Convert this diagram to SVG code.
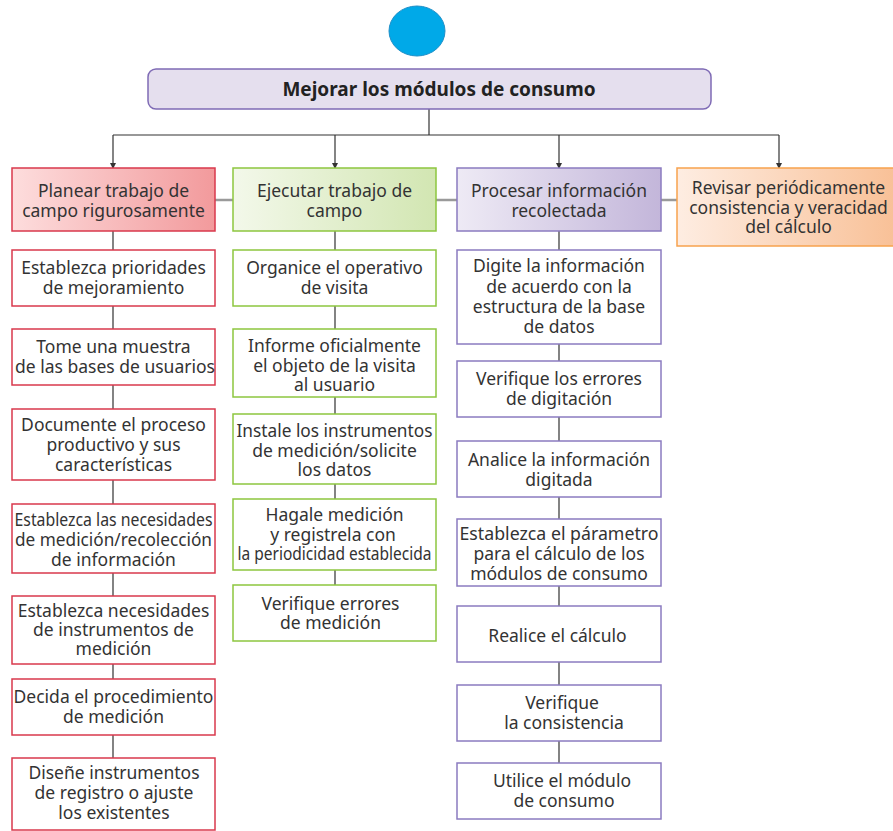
<svg xmlns="http://www.w3.org/2000/svg" width="893" height="831" viewBox="0 0 893 831">
<style>
text{font-family:"Noto Sans","Open Sans","DejaVu Sans",sans-serif;font-size:17.5px;fill:#333;text-anchor:middle}
.title{font-weight:bold;font-size:19px;fill:#222}
.red{fill:#fff;stroke:#D9394C;stroke-width:1.5}
.grn{fill:#fff;stroke:#8DC63F;stroke-width:1.5}
.pur{fill:#fff;stroke:#8B7BC0;stroke-width:1.5}
.conn{stroke:#333;stroke-width:1.2;fill:none}
.gray{stroke:#9a9a9a;stroke-width:2.5;fill:none}
</style>
<defs>
<linearGradient id="gRed" x1="0" x2="1" y1="0" y2="0"><stop offset="0" stop-color="#FDDDDD"/><stop offset="1" stop-color="#F29A9C"/></linearGradient>
<linearGradient id="gGrn" x1="0" x2="1" y1="0" y2="0"><stop offset="0" stop-color="#F3F8EA"/><stop offset="1" stop-color="#D2E6B2"/></linearGradient>
<linearGradient id="gPur" x1="0" x2="1" y1="0" y2="0"><stop offset="0" stop-color="#EEEAF5"/><stop offset="1" stop-color="#C3B6DA"/></linearGradient>
<linearGradient id="gOra" x1="0" x2="1" y1="0" y2="0"><stop offset="0" stop-color="#FEEDE2"/><stop offset="1" stop-color="#F8BE93"/></linearGradient>
<marker id="arr" markerWidth="6" markerHeight="6" refX="5" refY="3" orient="auto" markerUnits="userSpaceOnUse"><path d="M0,0 L6,3 L0,6 Z" fill="#333"/></marker>
</defs>

<g id="connectors">
<path class="conn" d="M429,109 V135"/>
<path class="conn" d="M113,135 H779"/>
<path class="conn" d="M113,135 V168" marker-end="url(#arr)"/>
<path class="conn" d="M335,135 V168" marker-end="url(#arr)"/>
<path class="conn" d="M559,135 V168" marker-end="url(#arr)"/>
<path class="conn" d="M779,135 V168" marker-end="url(#arr)"/>
<path class="gray" d="M215,200 H233 M436,200 H457 M661,200 H677"/>
<path class="conn" d="M113,231 V250 M113,306 V329 M113,385 V409 M113,480 V504 M113,573 V596 M113,664 V679 M113,735 V758"/>
<path class="conn" d="M335,231 V250 M335,306 V329 M335,397 V414 M335,484 V499 M335,570 V585"/>
<path class="conn" d="M559,231 V250 M559,344 V361 M559,417 V441 M559,497 V519 M559,586 V606 M559,662 V685 M559,741 V763"/>
</g>

<g id="start"><ellipse cx="417" cy="31" rx="28" ry="25" fill="#00A9E8" stroke="#1E8FC8" stroke-width="1"/></g>

<g id="root">
<rect x="148" y="69" width="563" height="40" rx="8" fill="#E5DFEE" stroke="#7F6BB5" stroke-width="1.5"/>
<text class="title" x="439" y="96">Mejorar los módulos de consumo</text>
</g>

<g id="h1">
<rect x="12" y="168" width="203" height="63" fill="url(#gRed)" stroke="#D9394C" stroke-width="1.5"/>
<text x="113.5" y="197">Planear trabajo de</text>
<text x="113.5" y="217">campo rigurosamente</text>
</g>
<g id="h2">
<rect x="233" y="168" width="203" height="63" fill="url(#gGrn)" stroke="#8DC63F" stroke-width="1.5"/>
<text x="334.5" y="197">Ejecutar trabajo de</text>
<text x="334.5" y="217">campo</text>
</g>
<g id="h3">
<rect x="457" y="168" width="204" height="63" fill="url(#gPur)" stroke="#8B7BC0" stroke-width="1.5"/>
<text x="559" y="197">Procesar información</text>
<text x="559" y="217">recolectada</text>
</g>
<g id="h4">
<rect x="677" y="168" width="230" height="78" fill="url(#gOra)" stroke="#F7A24E" stroke-width="1.5"/>
<text x="788.5" y="194">Revisar periódicamente</text>
<text x="788.5" y="214">consistencia y veracidad</text>
<text x="788.5" y="233">del cálculo</text>
</g>

<g id="c1a"><rect class="red" x="12" y="250" width="203" height="56"/>
<text x="113.5" y="274">Establezca prioridades</text><text x="113.5" y="294">de mejoramiento</text></g>
<g id="c1b"><rect class="red" x="12" y="329" width="203" height="56"/>
<text x="113.5" y="353">Tome una muestra</text><text x="115" y="373">de las bases de usuarios</text></g>
<g id="c1c"><rect class="red" x="12" y="409" width="203" height="71"/>
<text x="113.5" y="431">Documente el proceso</text><text x="113.5" y="451">productivo y sus</text><text x="113.5" y="471">características</text></g>
<g id="c1d"><rect class="red" x="12" y="504" width="203" height="69"/>
<text x="113.5" y="526" textLength="198" lengthAdjust="spacingAndGlyphs">Establezca las necesidades</text><text x="113.5" y="546" textLength="197" lengthAdjust="spacingAndGlyphs">de medición/recolección</text><text x="113.5" y="566">de información</text></g>
<g id="c1e"><rect class="red" x="12" y="596" width="203" height="68"/>
<text x="113.5" y="617">Establezca necesidades</text><text x="113.5" y="636">de instrumentos de</text><text x="113.5" y="655">medición</text></g>
<g id="c1f"><rect class="red" x="12" y="679" width="203" height="56"/>
<text x="113.5" y="703">Decida el procedimiento</text><text x="113.5" y="723">de medición</text></g>
<g id="c1g"><rect class="red" x="12" y="758" width="203" height="72"/>
<text x="114" y="779">Diseñe instrumentos</text><text x="114" y="799">de registro o ajuste</text><text x="114" y="819">los existentes</text></g>

<g id="c2a"><rect class="grn" x="233" y="250" width="203" height="56"/>
<text x="334.5" y="274">Organice el operativo</text><text x="334.5" y="294">de visita</text></g>
<g id="c2b"><rect class="grn" x="233" y="329" width="203" height="68"/>
<text x="334.5" y="352">Informe oficialmente</text><text x="334.5" y="372">el objeto de la visita</text><text x="334.5" y="391">al usuario</text></g>
<g id="c2c"><rect class="grn" x="233" y="414" width="203" height="70"/>
<text x="334.5" y="437" textLength="196" lengthAdjust="spacingAndGlyphs">Instale los instrumentos</text><text x="334.5" y="457">de medición/solicite</text><text x="334.5" y="476">los datos</text></g>
<g id="c2d"><rect class="grn" x="233" y="499" width="203" height="71"/>
<text x="334.5" y="521">Hagale medición</text><text x="333" y="541">y registrela con</text><text x="334.5" y="560" textLength="194" lengthAdjust="spacingAndGlyphs">la periodicidad establecida</text></g>
<g id="c2e"><rect class="grn" x="233" y="585" width="203" height="56"/>
<text x="330.5" y="610">Verifique errores</text><text x="330.5" y="629">de medición</text></g>

<g id="c3a"><rect class="pur" x="457" y="250" width="204" height="94"/>
<text x="559" y="272">Digite la información</text><text x="559" y="293">de acuerdo con la</text><text x="559" y="313">estructura de la base</text><text x="559" y="333">de datos</text></g>
<g id="c3b"><rect class="pur" x="457" y="361" width="204" height="56"/>
<text x="559" y="385">Verifique los errores</text><text x="559" y="405">de digitación</text></g>
<g id="c3c"><rect class="pur" x="457" y="441" width="204" height="56"/>
<text x="559" y="466">Analice la información</text><text x="559" y="486">digitada</text></g>
<g id="c3d"><rect class="pur" x="457" y="519" width="204" height="67"/>
<text x="559" y="540" textLength="199" lengthAdjust="spacingAndGlyphs">Establezca el párametro</text><text x="559" y="560">para el cálculo de los</text><text x="559" y="580">módulos de consumo</text></g>
<g id="c3e"><rect class="pur" x="457" y="606" width="204" height="56"/>
<text x="557.5" y="642">Realice el cálculo</text></g>
<g id="c3f"><rect class="pur" x="457" y="685" width="204" height="56"/>
<text x="562" y="709">Verifique</text><text x="564" y="729">la consistencia</text></g>
<g id="c3g"><rect class="pur" x="457" y="763" width="204" height="56"/>
<text x="562" y="787">Utilice el módulo</text><text x="564" y="807">de consumo</text></g>
</svg>
